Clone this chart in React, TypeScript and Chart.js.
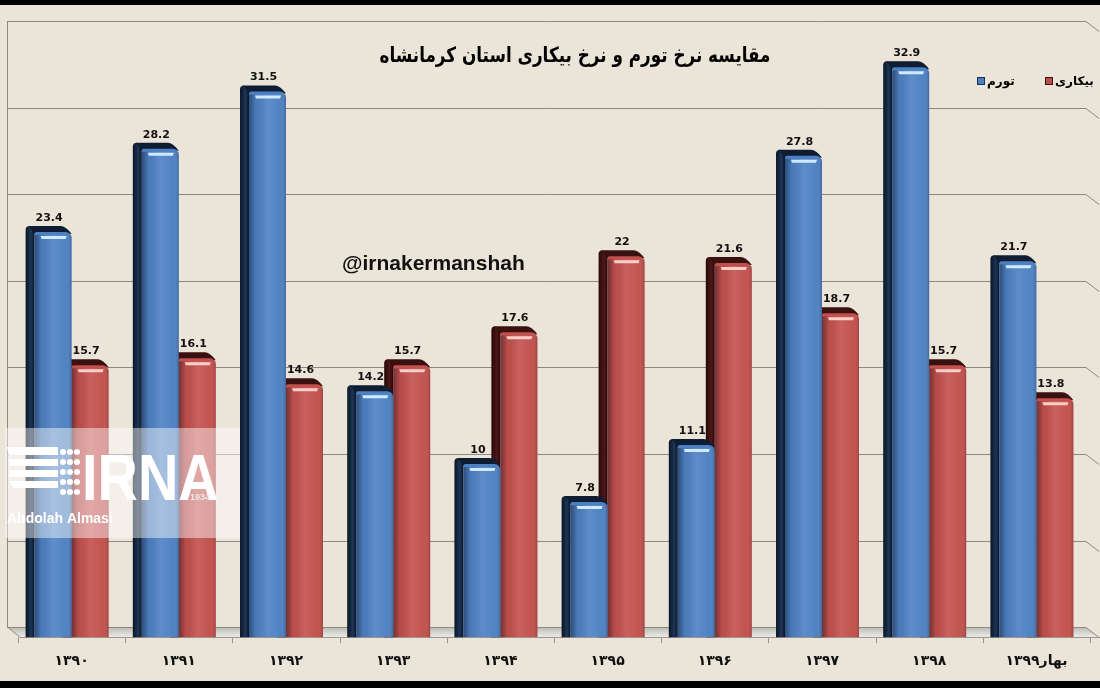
import React, { useEffect, useRef } from 'react';
import { Chart, registerables } from 'chart.js';

Chart.register(...registerables);

// ---- data ----
const categories = ['۱۳۹۰', '۱۳۹۱', '۱۳۹۲', '۱۳۹۳', '۱۳۹۴', '۱۳۹۵', '۱۳۹۶', '۱۳۹۷', '۱۳۹۸', 'بهار۱۳۹۹'];
const inflation = [23.4, 28.2, 31.5, 14.2, 10, 7.8, 11.1, 27.8, 32.9, 21.7];
const unemployment = [15.7, 16.1, 14.6, 15.7, 17.6, 22, 21.6, 18.7, 15.7, 13.8];
const seriesNames = ['تورم', 'بیکاری'];
const titleText = 'مقایسه نرخ تورم و نرخ بیکاری استان کرمانشاه';
const handleText = '@irnakermanshah';
const gridValues = [0, 5, 10, 15, 20, 25, 30, 35];

// ---- styling ----
const DX = -9;
const DY = -6;
const WALL_DEPTH = 10;
const palette = [
  { face: '#4d80c2', side: '#0a1524', sideLight: '#1e3556', cap: '#0f1d33', hi: '#cfeaff' },
  { face: '#c2504c', side: '#260808', sideLight: '#4e1717', cap: '#3a1010', hi: '#f8d0c8' },
];

function barGeom(el: any) {
  const p = el.getProps(['x', 'y', 'base', 'width'], true);
  return { xL: p.x - p.width / 2, xR: p.x + p.width / 2, top: p.y, base: p.base, x: p.x, w: p.width };
}

const chart3d = {
  id: 'chart3d',
  beforeDraw(chart: any) {
    const { ctx, width, height } = chart;
    ctx.save();
    ctx.fillStyle = '#ebe4d8';
    ctx.fillRect(0, 0, width, height);
    ctx.fillStyle = '#000';
    ctx.fillRect(0, 0, width, 5);
    ctx.fillRect(0, 681, width, 7);
    ctx.restore();
  },
  beforeDatasetsDraw(chart: any) {
    const { ctx, chartArea } = chart;
    const y = chart.scales.y;
    const x = chart.scales.x;
    const wallLeft = 7;
    const gridRight = 1086;
    const base = y.getPixelForValue(0);
    ctx.save();
    // floor
    const fg = ctx.createLinearGradient(0, base - WALL_DEPTH, 0, base);
    fg.addColorStop(0, '#bdbab5');
    fg.addColorStop(1, '#ecebe8');
    ctx.fillStyle = fg;
    ctx.beginPath();
    ctx.moveTo(wallLeft, base - WALL_DEPTH);
    ctx.lineTo(gridRight, base - WALL_DEPTH);
    ctx.lineTo(gridRight + 14, base);
    ctx.lineTo(chartArea.left + 2, base);
    ctx.closePath();
    ctx.fill();
    // grid lines on the back wall
    ctx.strokeStyle = '#8d8981';
    ctx.lineWidth = 1;
    gridValues.forEach((v) => {
      const py = Math.round(y.getPixelForValue(v) - WALL_DEPTH) + 0.5;
      ctx.beginPath();
      ctx.moveTo(wallLeft, py);
      ctx.lineTo(gridRight, py);
      ctx.lineTo(gridRight + 13, py + WALL_DEPTH);
      ctx.stroke();
    });
    // left wall edge
    ctx.beginPath();
    ctx.moveTo(wallLeft + 0.5, Math.round(y.getPixelForValue(35) - WALL_DEPTH));
    ctx.lineTo(wallLeft + 0.5, Math.round(base - WALL_DEPTH));
    ctx.lineTo(chartArea.left + 2, base);
    ctx.stroke();
    // floor front edge + ticks
    ctx.strokeStyle = '#9a968f';
    ctx.beginPath();
    ctx.moveTo(chartArea.left + 2, Math.round(base) + 0.5);
    ctx.lineTo(gridRight + 14, Math.round(base) + 0.5);
    ctx.stroke();
    const step = x.getPixelForValue(1) - x.getPixelForValue(0);
    for (let i = 0; i <= categories.length; i++) {
      const px = x.getPixelForValue(0) - step / 2 + i * step;
      ctx.beginPath();
      ctx.moveTo(Math.round(px) + 0.5, base);
      ctx.lineTo(Math.round(px) + 0.5, base + 6);
      ctx.stroke();
    }
    ctx.restore();
  },
  beforeDatasetDraw(chart: any, args: any) {
    const { ctx } = chart;
    const pal = palette[args.index];
    ctx.save();
    args.meta.data.forEach((el: any) => {
      const g = barGeom(el);
      // side
      const sg = ctx.createLinearGradient(g.xL + DX, 0, g.xL, 0);
      sg.addColorStop(0, pal.side);
      sg.addColorStop(0.6, pal.sideLight);
      sg.addColorStop(1, pal.side);
      ctx.fillStyle = sg;
      ctx.beginPath();
      ctx.moveTo(g.xL, g.base);
      ctx.lineTo(g.xL + DX, g.base);
      ctx.lineTo(g.xL + DX, g.top + DY + 4);
      ctx.quadraticCurveTo(g.xL + DX, g.top + DY, g.xL + DX + 4, g.top + DY);
      ctx.lineTo(g.xL, g.top);
      ctx.closePath();
      ctx.fill();
      // cap
      ctx.fillStyle = pal.cap;
      ctx.beginPath();
      ctx.moveTo(g.xL + DX + 3, g.top + DY);
      ctx.lineTo(g.xR + DX - 2, g.top + DY);
      ctx.quadraticCurveTo(g.xR + DX + 3, g.top + DY, g.xR, g.top + 2);
      ctx.lineTo(g.xL, g.top + 2);
      ctx.closePath();
      ctx.fill();
    });
    ctx.restore();
  },
  afterDatasetDraw(chart: any, args: any) {
    const { ctx } = chart;
    const pal = palette[args.index];
    ctx.save();
    args.meta.data.forEach((el: any) => {
      const g = barGeom(el);
      const lg = ctx.createLinearGradient(g.xL, 0, g.xR, 0);
      lg.addColorStop(0, 'rgba(10,15,40,0.45)');
      lg.addColorStop(0.18, 'rgba(0,0,0,0.05)');
      lg.addColorStop(0.5, 'rgba(255,255,255,0.10)');
      lg.addColorStop(0.85, 'rgba(255,255,255,0.02)');
      lg.addColorStop(1, 'rgba(0,0,0,0.18)');
      ctx.fillStyle = lg;
      ctx.fillRect(g.xL, g.top + 3, g.w, g.base - g.top - 3);
      // highlight
      ctx.fillStyle = pal.hi;
      ctx.beginPath();
      ctx.moveTo(g.xL + 6, g.top + 4);
      ctx.lineTo(g.xR - 5, g.top + 4);
      ctx.lineTo(g.xR - 6, g.top + 7);
      ctx.lineTo(g.xL + 7, g.top + 7);
      ctx.closePath();
      ctx.fill();
    });
    ctx.restore();
  },
  afterDatasetsDraw(chart: any) {
    const { ctx } = chart;
    ctx.save();
    ctx.fillStyle = '#111';
    ctx.font = 'bold 11px "DejaVu Sans"';
    ctx.textAlign = 'center';
    ctx.textBaseline = 'middle';
    chart.data.datasets.forEach((ds: any, di: number) => {
      const meta = chart.getDatasetMeta(di);
      meta.data.forEach((el: any, i: number) => {
        const g = barGeom(el);
        ctx.fillText(String(ds.data[i]), g.x - 4, g.top - 14);
      });
    });
    ctx.restore();
  },
  afterDraw(chart: any) {
    const { ctx } = chart;
    ctx.save();
    // title (horizontally condensed)
    ctx.fillStyle = '#000';
    ctx.textAlign = 'center';
    ctx.textBaseline = 'middle';
    ctx.save();
    ctx.translate(575, 57);
    ctx.scale(0.8, 1);
    ctx.font = 'bold 21px "DejaVu Sans"';
    ctx.fillText(titleText, 0, 0);
    ctx.restore();
    // legend
    ctx.textAlign = 'left';
    ctx.font = 'bold 12px "DejaVu Sans"';
    const legendItems = [
      { x: 977, color: '#4d80c2', border: '#1c2f4d' },
      { x: 1045, color: '#b8504c', border: '#3a1010' },
    ];
    legendItems.forEach((it, i) => {
      ctx.fillStyle = it.border;
      ctx.fillRect(it.x, 77, 8, 8);
      ctx.fillStyle = it.color;
      ctx.fillRect(it.x + 1, 78, 6, 6);
      ctx.fillStyle = '#000';
      ctx.fillText(seriesNames[i], it.x + 10, 82);
    });
    // handle
    ctx.font = 'bold 21px "Liberation Sans"';
    ctx.textBaseline = 'alphabetic';
    ctx.fillStyle = '#111';
    ctx.fillText(handleText, 342, 270);
    // watermark
    ctx.fillStyle = 'rgba(255,255,255,0.45)';
    ctx.fillRect(5, 428, 235, 110);
    ctx.fillStyle = '#ffffff';
    const stripes = [[447, 455], [459, 466], [470, 477], [481, 488]];
    stripes.forEach(([a, b], i) => {
      ctx.beginPath();
      ctx.moveTo(7 + (i === 0 ? 0 : 2), a);
      ctx.lineTo(58, a);
      ctx.lineTo(58, b);
      ctx.lineTo(7 + (i === 3 ? 6 : 2), b);
      ctx.closePath();
      ctx.fill();
    });
    for (let r = 0; r < 5; r++) {
      for (let c = 0; c < 3; c++) {
        ctx.beginPath();
        ctx.arc(63 + c * 7, 452 + r * 10, 3, 0, Math.PI * 2);
        ctx.fill();
      }
    }
    ctx.save();
    ctx.translate(82, 500);
    ctx.scale(0.86, 1);
    ctx.font = 'bold 65px "Liberation Sans"';
    ctx.fillText('IRNA', 0, 0);
    ctx.restore();
    ctx.fillStyle = 'rgba(235,235,235,0.95)';
    ctx.font = 'bold 9px "Liberation Sans"';
    ctx.fillText('1934', 190, 500);
    ctx.fillStyle = '#ffffff';
    ctx.font = 'bold 14px "Liberation Sans"';
    ctx.fillText('Abdolah Almasi', 7, 523);
    ctx.restore();
  },
};

export default function App() {
  const canvasRef = useRef<HTMLCanvasElement | null>(null);
  useEffect(() => {
    if (!canvasRef.current) return;
    const chart = new Chart(canvasRef.current, {
      type: 'bar',
      data: {
        labels: categories,
        datasets: [
          {
            label: seriesNames[0],
            data: inflation,
            backgroundColor: palette[0].face,
            borderRadius: { topLeft: 2, topRight: 6, bottomLeft: 0, bottomRight: 0 },
            borderSkipped: false,
            barPercentage: 1,
            categoryPercentage: 0.69,
          },
          {
            label: seriesNames[1],
            data: unemployment,
            backgroundColor: palette[1].face,
            borderRadius: { topLeft: 2, topRight: 6, bottomLeft: 0, bottomRight: 0 },
            borderSkipped: false,
            barPercentage: 1,
            categoryPercentage: 0.69,
          },
        ],
      },
      options: {
        responsive: false,
        animation: false,
        devicePixelRatio: 1,
        layout: { padding: { left: 18, right: 10, top: 31, bottom: 2 } },
        plugins: {
          legend: { display: false },
          title: { display: false },
          tooltip: { enabled: false },
        },
        scales: {
          y: { display: false, min: 0, max: 35 },
          x: {
            grid: { display: false, drawTicks: false },
            border: { display: false },
            ticks: {
              color: '#111',
              maxRotation: 0,
              autoSkip: false,
              padding: 16,
              font: { family: '"DejaVu Sans"', size: 14, weight: 'bold' },
            },
          },
        },
      },
      plugins: [chart3d],
    });
    return () => chart.destroy();
  }, []);
  return (
    <div style={{ position: 'absolute', left: 0, top: 0, width: 1100, height: 688 }}>
      <canvas ref={canvasRef} width={1100} height={688} style={{ display: 'block' }} />
    </div>
  );
}
